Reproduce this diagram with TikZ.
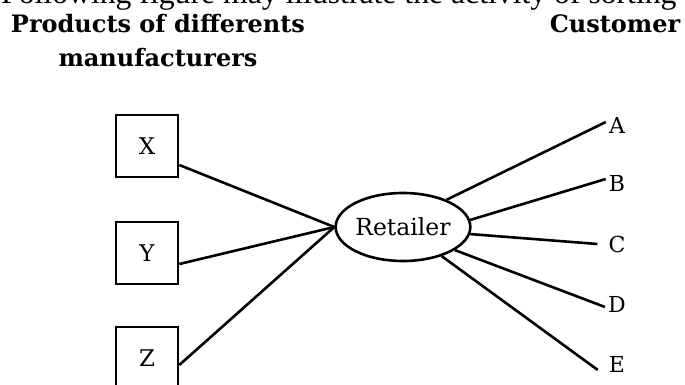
\documentclass[tikz,border=0pt]{standalone}
\usepackage{fontspec}
\setmainfont{DejaVu Serif}
\newfontfamily\timesfont{Liberation Serif}
\usetikzlibrary{shapes.geometric}
\begin{document}
\begin{tikzpicture}[x=1pt,y=-1pt,
  box/.style={draw, line width=2.6pt, minimum width=62pt, minimum height=62pt, inner sep=0pt, font=\fontsize{23}{27}\selectfont},
  conn/.style={line width=2.6pt},
  lbl/.style={font=\fontsize{22}{26}\selectfont, inner sep=3pt},
  head/.style={font=\bfseries\fontsize{24}{30}\selectfont, inner sep=0pt, anchor=base},
  ret/.style={draw, ellipse, line width=2.6pt, minimum width=133pt, minimum height=68pt, inner sep=0pt, font=\fontsize{23.5}{28}\selectfont}]
\clip (0,0) rectangle (685,385);
\fill[white] (0,0) rectangle (685,385);
\node[anchor=base west, inner sep=0pt, font=\timesfont\fontsize{31.7}{36}\selectfont] (title) at (1,4) {Following figure may illustrate the activity of sorting};
\node[head] (p1) at (158,33) {Products of differents};
\node[head] (p2) at (158,67) {manufacturers};
\node[head] (cu) at (615,33) {Customer};
\node[box] (X) at (147,146) {X};
\node[box] (Y) at (147,253) {Y};
\node[box] (Z) at (147,358) {Z};
\node[ret] (R) at (403,227) {Retailer};
\node[lbl] (A) at (617,125) {A};
\node[lbl] (B) at (617,183) {B};
\node[lbl] (C) at (617,244) {C};
\node[lbl] (D) at (617,304) {D};
\node[lbl] (E) at (617,364) {E};
\draw[conn] ([yshift=-19pt]X.east) -- (R.west);
\draw[conn] ([yshift=-11pt]Y.east) -- (R.west);
\draw[conn] ([yshift=-7pt]Z.east) -- (R.west);
\draw[conn] (R.32) -- ([yshift=3pt]A.west);
\draw[conn] (R.6) -- ([yshift=4pt]B.west);
\draw[conn] (R.-6) -- ([xshift=-8pt]C.west);
\draw[conn] (R.-24) -- ([yshift=-3pt]D.west);
\draw[conn] (R.-37) -- ([xshift=-8pt,yshift=-6pt]E.west);
\end{tikzpicture}
\end{document}
